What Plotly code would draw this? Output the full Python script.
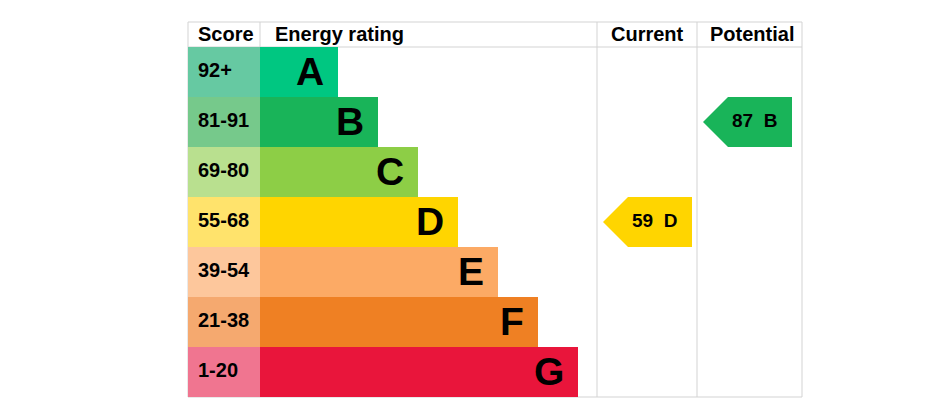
import plotly.graph_objects as go

# EPC bands
bands = ["A", "B", "C", "D", "E", "F", "G"]
score_ranges = ["92+", "81-91", "69-80", "55-68", "39-54", "21-38", "1-20"]
band_min = [92, 81, 69, 55, 39, 21, 1]
bar_colors = ["#00c781", "#19b459", "#8dce46", "#ffd500", "#fcaa65", "#ef8023", "#e9153b"]
score_colors = ["#66c9a2", "#76c98b", "#b9e08f", "#ffe36c", "#fdc79c", "#f5a96f", "#f07590"]

current_score = 59
potential_score = 87

headers = ["Score", "Energy rating", "Current", "Potential"]

# geometry (page pixel space; the page body has an 8px margin)
W, H = 929, 418
off = 8
left, top, hdr_h, row_h = 188, 22, 25, 50
score_w = 72
bar_x0 = 260
bar_w0, bar_step = 78, 40
cur_x0, pot_x0, right = 597, 697, 802
FONT = "Liberation Sans, Arial, sans-serif"


def band_of(score):
    for i, m in enumerate(band_min):
        if score >= m:
            return i
    return len(bands) - 1


row_y = [top + hdr_h + row_h * (i + 0.5) for i in range(len(bands))]

fig = go.Figure()

# score column background
fig.add_bar(
    y=row_y, x=[score_w] * len(bands), base=left, orientation="h",
    width=row_h, marker=dict(color=score_colors, line_width=0),
    hoverinfo="skip", showlegend=False,
)
# rating bars
fig.add_bar(
    y=row_y, x=[bar_w0 + bar_step * i for i in range(len(bands))], base=bar_x0,
    orientation="h", width=row_h, marker=dict(color=bar_colors, line_width=0),
    hoverinfo="skip", showlegend=False,
)

annotations = []
for i, b in enumerate(bands):
    annotations.append(dict(
        x=left + 8, y=row_y[i] - 2, text=score_ranges[i], showarrow=False,
        xanchor="left", font=dict(family=FONT, size=20, color="black", weight="bold"),
    ))
    annotations.append(dict(
        x=bar_x0 + bar_w0 + bar_step * i - 12, y=row_y[i] - 1, text=b, showarrow=False,
        xanchor="right", font=dict(family=FONT, size=39, color="black", weight="bold"),
    ))

# arrows for current / potential
tip = 25
for score, x0 in [(current_score, cur_x0), (potential_score, pot_x0)]:
    i = band_of(score)
    yc = row_y[i]
    xl, xr = x0 + 6, x0 + 95
    fig.add_scatter(
        x=[xl, xl + tip, xr, xr, xl + tip, xl],
        y=[yc, yc - row_h / 2, yc - row_h / 2, yc + row_h / 2, yc + row_h / 2, yc],
        fill="toself", fillcolor=bar_colors[i], mode="lines", line_width=0,
        hoverinfo="skip", showlegend=False,
    )
    annotations.append(dict(
        x=(xl + xr) / 2 + 7, y=yc - 2, text=f"{score}\u00a0\u00a0{bands[i]}", showarrow=False,
        font=dict(family=FONT, size=19, color="black", weight="bold"),
    ))

# headers
hy = top + hdr_h / 2 - 1
annotations += [
    dict(x=left + 8, y=hy, text=headers[0], xanchor="left"),
    dict(x=bar_x0 + 13, y=hy, text=headers[1], xanchor="left"),
    dict(x=(cur_x0 + pot_x0) / 2, y=hy, text=headers[2]),
    dict(x=(pot_x0 + right) / 2 + 2, y=hy, text=headers[3]),
]
for a in annotations[-4:]:
    a.update(showarrow=False, font=dict(family=FONT, size=20, color="black", weight="bold"))

# table lines
grid = dict(color="#d3d3d3", width=1)
bottom = top + hdr_h + row_h * len(bands)
shapes = [
    dict(type="rect", x0=left, x1=right, y0=top, y1=bottom, line=grid, layer="below"),
    dict(type="line", x0=left, x1=right, y0=top + hdr_h, y1=top + hdr_h, line=grid, layer="below"),
    dict(type="line", x0=bar_x0, x1=bar_x0, y0=top, y1=top + hdr_h, line=grid, layer="below"),
    dict(type="line", x0=cur_x0, x1=cur_x0, y0=top, y1=bottom, line=grid, layer="below"),
    dict(type="line", x0=pot_x0, x1=pot_x0, y0=top, y1=bottom, line=grid, layer="below"),
]

fig.update_layout(
    width=W, height=H, margin=dict(l=0, r=0, t=0, b=0),
    paper_bgcolor="white", plot_bgcolor="white",
    barmode="overlay", annotations=annotations, shapes=shapes,
    xaxis=dict(range=[off, W + off], visible=False, fixedrange=True),
    yaxis=dict(range=[H + off, off], visible=False, fixedrange=True),
)

fig.write_html("out.html")
